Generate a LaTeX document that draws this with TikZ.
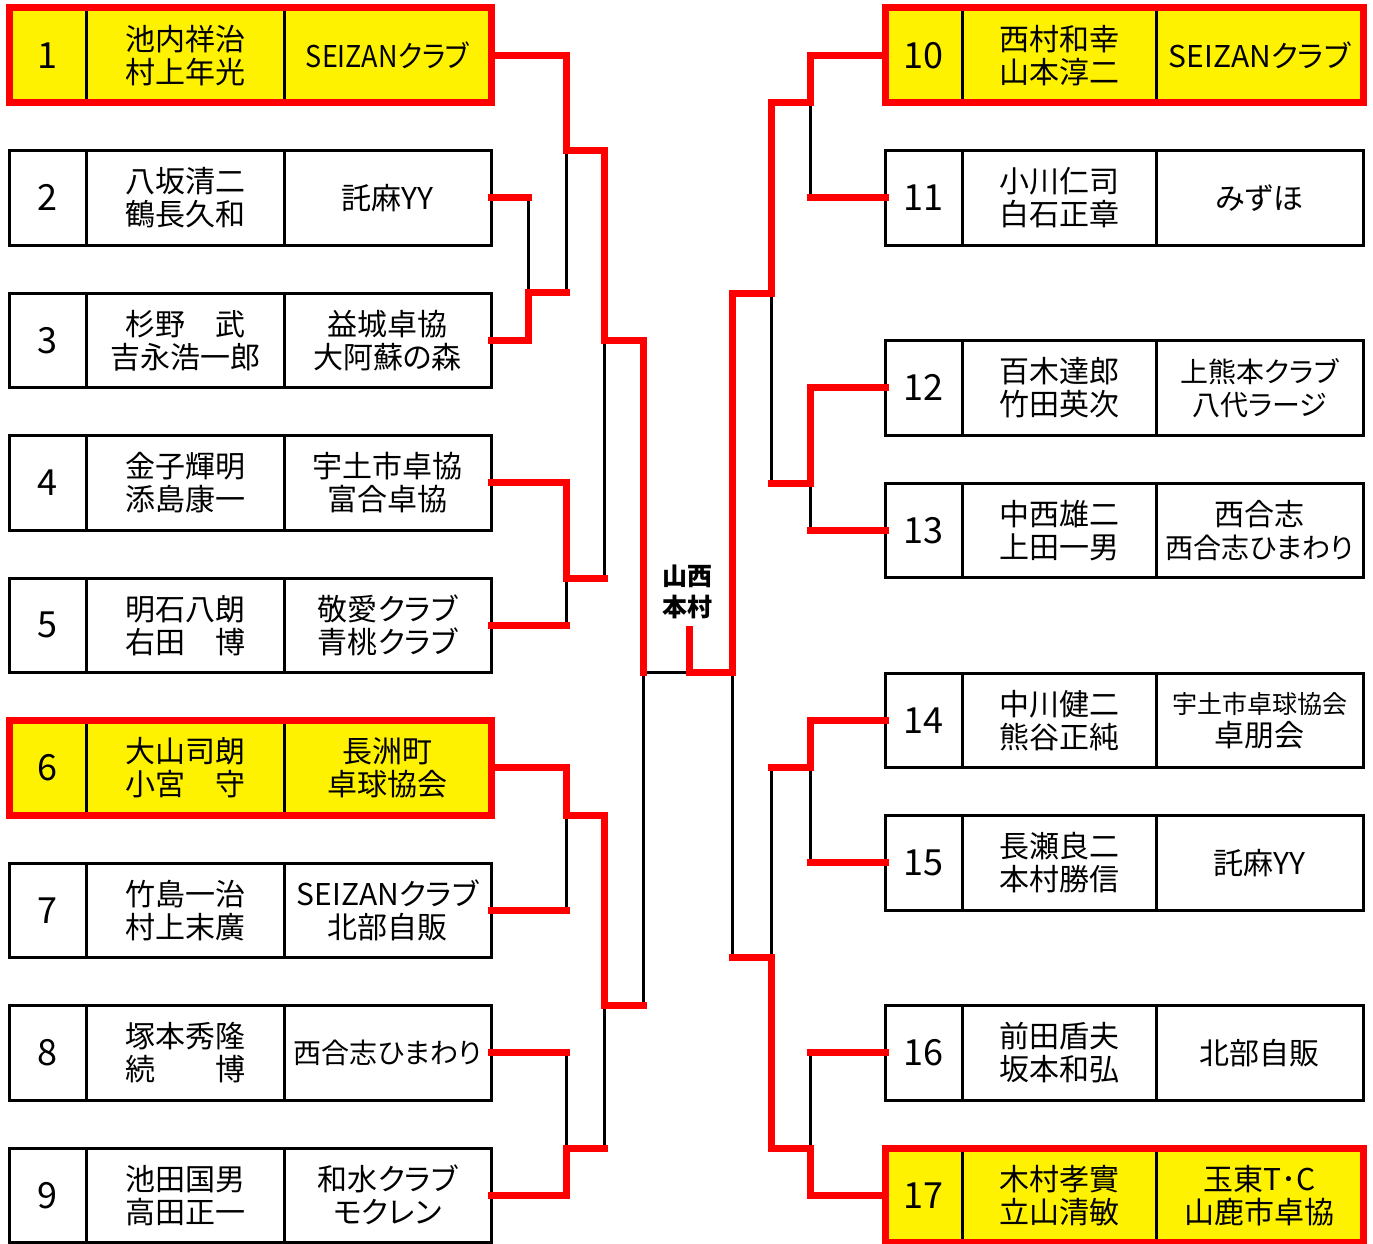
\documentclass[tikz,border=0pt]{standalone}
\usepackage{graphicx}
\usepackage{fontspec}
\setmainfont{Noto Sans CJK JP}
\newfontfamily\clubfont{Noto Sans CJK JP}[RawFeature=+palt]
\usetikzlibrary{calc}
\tikzset{
  cell/.style={draw=black, line width=3pt, inner sep=0pt, outer sep=0pt,
    minimum height=94.5pt, anchor=north west, align=center},
  numcell/.style={cell, minimum width=77pt, font=\fontsize{36}{36}\selectfont},
  namecell/.style={cell, font=\fontsize{30}{33}\selectfont},
  clubcell/.style={cell, minimum width=207pt, font=\clubfont\fontsize{30}{33}\selectfont},
  win/.style={fill=yellow},
  winframe/.style={draw=red, line width=7pt, line join=miter},
  redline/.style={draw=red, line width=7pt, line cap=rect, line join=miter},
  blackline/.style={draw=black, line width=3pt, line cap=rect},
  centerlabel/.style={font=\bfseries\fontsize{25}{31}\selectfont, align=center, inner sep=0pt},
}
\newcommand\entryL[6]{%
  \node[numcell,#6] (#1n) at (9,#2) {#3};
  \node[namecell,minimum width=198pt,#6] (#1p) at (#1n.north east) {#4};
  \node[clubcell,#6] (#1c) at (#1p.north east) {#5};
}
\newcommand\entryR[6]{%
  \node[numcell,#6] (#1n) at (885,#2) {#3};
  \node[namecell,minimum width=194pt,#6] (#1p) at (#1n.north east) {#4};
  \node[clubcell,#6] (#1c) at (#1p.north east) {#5};
}
\begin{document}
\begin{tikzpicture}[x=1pt,y=-1pt]
\fill[white] (0,0) rectangle (1373,1244);
\useasboundingbox (0,0) rectangle (1373,1244);

% left entries
\entryL{b1}{8}{1}{池内祥治\\村上年光}{\scalebox{0.9}[1]{SEIZANクラブ}}{win}
\entryL{b2}{150.5}{2}{八坂清二\\鶴長久和}{託麻YY}{}
\entryL{b3}{293}{3}{杉野　武\\吉永浩一郎}{益城卓協\\大阿蘇の森}{}
\entryL{b4}{435.5}{4}{金子輝明\\添島康一}{宇土市卓協\\富合卓協}{}
\entryL{b5}{578}{5}{明石八朗\\右田　博}{敬愛クラブ\\青桃クラブ}{}
\entryL{b6}{720.5}{6}{大山司朗\\小宮　守}{長洲町\\卓球協会}{win}
\entryL{b7}{863}{7}{竹島一治\\村上末廣}{SEIZANクラブ\\北部自販}{}
\entryL{b8}{1005.5}{8}{塚本秀隆\\続　　博}{{\fontsize{28}{33}\selectfont 西合志ひまわり}}{}
\entryL{b9}{1148}{9}{池田国男\\高田正一}{和水クラブ\\モクレン}{}

% right entries
\entryR{b10}{8}{10}{西村和幸\\山本淳二}{SEIZANクラブ}{win}
\entryR{b11}{150.5}{11}{小川仁司\\白石正章}{みずほ}{}
\entryR{b12}{340.5}{12}{百木達郎\\竹田英次}{{\fontsize{28}{33}\selectfont 上熊本クラブ}\\{\fontsize{28}{33}\selectfont 八代ラージ}}{}
\entryR{b13}{483}{13}{中西雄二\\上田一男}{西合志\\{\fontsize{28}{33}\selectfont 西合志ひまわり}}{}
\entryR{b14}{673}{14}{中川健二\\熊谷正純}{{\fontsize{25}{33}\selectfont 宇土市卓球協会}\\卓朋会}{}
\entryR{b15}{815.5}{15}{長瀬良二\\本村勝信}{託麻YY}{}
\entryR{b16}{1005.5}{16}{前田盾夫\\坂本和弘}{北部自販}{}
\entryR{b17}{1148}{17}{木村孝實\\立山清敏}{玉東T･C\\山鹿市卓協}{win}

% highlighted frames
\draw[winframe] (b1n.north west) rectangle (b1c.south east);
\draw[winframe] (b6n.north west) rectangle (b6c.south east);
\draw[winframe] (b10n.north west) rectangle (b10c.south east);
\draw[winframe] (b17n.north west) rectangle (b17c.south east);

% match points
\coordinate (m23) at (528,292.5);
\coordinate (mA) at (566,150.5);
\coordinate (m45) at (566,578);
\coordinate (mQ1) at (604,340.5);
\coordinate (m67) at (566,815);
\coordinate (m89) at (566,1148);
\coordinate (mQ2) at (604,1005.5);
\coordinate (mS1) at (643,672.5);
\coordinate (m1011) at (810,102.5);
\coordinate (m1213) at (810,483);
\coordinate (mQ3) at (771,293);
\coordinate (m1415) at (810,767.5);
\coordinate (m1617) at (810,1148);
\coordinate (mQ4) at (771,957.5);
\coordinate (mS2) at (732,672.5);
\coordinate (mF) at (689,672.5);
\coordinate (champ) at (689,629);

% losing sides (black)
\draw[blackline] (b2c.east -| m23) -- (m23);
\draw[blackline] (m23 -| mA) -- (mA);
\draw[blackline] (b5c.east -| m45) -- (m45);
\draw[blackline] (m45 -| mQ1) -- (mQ1);
\draw[blackline] (b7c.east -| m67) -- (m67);
\draw[blackline] (b8c.east -| m89) -- (m89);
\draw[blackline] (m89 -| mQ2) -- (mQ2);
\draw[blackline] (mQ2 -| mS1) -- (mS1) -- (mF);
\draw[blackline] (b11n.west -| m1011) -- (m1011);
\draw[blackline] (b13n.west -| m1213) -- (m1213);
\draw[blackline] (m1213 -| mQ3) -- (mQ3);
\draw[blackline] (b15n.west -| m1415) -- (m1415);
\draw[blackline] (b16n.west -| m1617) -- (m1617);
\draw[blackline] (m1415 -| mQ4) -- (mQ4);
\draw[blackline] (mQ4 -| mS2) -- (mS2);

% winning paths and stubs (red)
\draw[redline] (b1c.east) -| (mA) -- (mA -| mQ1) -- (mQ1) -- (mQ1 -| mS1) -- (mS1);
\draw[redline] (b2c.east) -- (b2c.east -| m23);
\draw[redline] (b3c.east) -| (m23) -- (m23 -| mA);
\draw[redline] (b4c.east) -| (m45) -- (m45 -| mQ1);
\draw[redline] (b5c.east) -- (b5c.east -| m45);
\draw[redline] (b6c.east) -| (m67) -- (m67 -| mQ2) -- (mQ2) -- (mQ2 -| mS1);
\draw[redline] (b7c.east) -- (b7c.east -| m67);
\draw[redline] (b8c.east) -- (b8c.east -| m89);
\draw[redline] (b9c.east) -| (m89) -- (m89 -| mQ2);

\draw[redline] (b10n.west) -| (m1011) -- (m1011 -| mQ3) -- (mQ3) -- (mQ3 -| mS2) -- (mS2) -- (mF) -- (champ);
\draw[redline] (b11n.west) -- (b11n.west -| m1011);
\draw[redline] (b12n.west) -| (m1213) -- (m1213 -| mQ3);
\draw[redline] (b13n.west) -- (b13n.west -| m1213);
\draw[redline] (b14n.west) -| (m1415) -- (m1415 -| mQ4);
\draw[redline] (b15n.west) -- (b15n.west -| m1415);
\draw[redline] (b16n.west) -- (b16n.west -| m1617);
\draw[redline] (b17n.west) -| (m1617) -- (m1617 -| mQ4) -- (mQ4) -- (mQ4 -| mS2);

% champion label
\node[centerlabel] (champion) at (687,592) {山西\\本村};
\end{tikzpicture}
\end{document}
